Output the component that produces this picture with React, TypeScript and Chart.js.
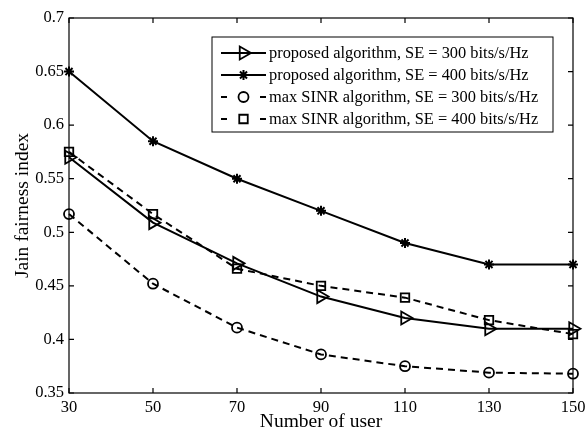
import React, { useEffect, useRef } from "react";
import { Chart, registerables } from "chart.js";
import { drawPoint } from "chart.js/helpers";

Chart.register(...registerables);

const users = [30, 50, 70, 90, 110, 130, 150];
const proposed300 = [0.57, 0.509, 0.471, 0.44, 0.42, 0.41, 0.41];
const proposed400 = [0.65, 0.585, 0.55, 0.52, 0.49, 0.47, 0.47];
const maxSinr300 = [0.517, 0.452, 0.411, 0.386, 0.375, 0.369, 0.368];
const maxSinr400 = [0.575, 0.517, 0.466, 0.45, 0.439, 0.418, 0.405];
const seriesLabels = [
  "proposed algorithm, SE = 300 bits/s/Hz",
  "proposed algorithm, SE = 400 bits/s/Hz",
  "max SINR algorithm, SE = 300 bits/s/Hz",
  "max SINR algorithm, SE = 400 bits/s/Hz",
];
const xTicks = [30, 50, 70, 90, 110, 130, 150];
const yTicks = [0.35, 0.4, 0.45, 0.5, 0.55, 0.6, 0.65, 0.7];

const FONT = "'Liberation Serif', 'Times New Roman', serif";

const boxAndTicks = {
  id: "boxAndTicks",
  afterDatasetsDraw(chart: any) {
    const { ctx, chartArea, scales } = chart;
    const { left, right, top, bottom } = chartArea;
    ctx.save();
    ctx.strokeStyle = "#000";
    ctx.lineWidth = 1.2;
    ctx.strokeRect(left, top, right - left, bottom - top);
    const tl = 5;
    ctx.beginPath();
    xTicks.forEach((v) => {
      const x = scales.x.getPixelForValue(v);
      ctx.moveTo(x, bottom);
      ctx.lineTo(x, bottom - tl);
      ctx.moveTo(x, top);
      ctx.lineTo(x, top + tl);
    });
    yTicks.forEach((v) => {
      const y = scales.y.getPixelForValue(v);
      ctx.moveTo(left, y);
      ctx.lineTo(left + tl, y);
      ctx.moveTo(right, y);
      ctx.lineTo(right - tl, y);
    });
    ctx.stroke();
    ctx.restore();
  },
};

const customLegend = {
  id: "customLegend",
  afterDraw(chart: any) {
    const { ctx, chartArea } = chart;
    const boxRight = chartArea.right - 20;
    const boxLeft = boxRight - 341;
    const boxTop = chartArea.top + 19;
    const rowH = 22;
    const boxH = 95;
    ctx.save();
    ctx.fillStyle = "#fff";
    ctx.fillRect(boxLeft, boxTop, boxRight - boxLeft, boxH);
    ctx.strokeStyle = "#000";
    ctx.lineWidth = 1;
    ctx.strokeRect(boxLeft, boxTop, boxRight - boxLeft, boxH);
    chart.data.datasets.forEach((ds: any, i: number) => {
      const y = boxTop + 16 + i * rowH;
      const x0 = boxLeft + 9;
      const x1 = boxLeft + 54;
      const xm = (x0 + x1) / 2;
      ctx.strokeStyle = "#000";
      ctx.fillStyle = "rgba(0,0,0,0)";
      ctx.lineWidth = ds.borderWidth;
      ctx.setLineDash([]);
      ctx.beginPath();
      if (ds.borderDash && ds.borderDash.length) {
        ctx.moveTo(x0, y);
        ctx.lineTo(x0 + 6, y);
        ctx.moveTo(x1 - 6, y);
        ctx.lineTo(x1, y);
      } else {
        ctx.moveTo(x0, y);
        ctx.lineTo(x1, y);
      }
      ctx.stroke();
      ctx.lineWidth = ds.pointBorderWidth;
      drawPoint(ctx, {
        pointStyle: ds.pointStyle,
        radius: ds.pointRadius,
        rotation: ds.pointRotation || 0,
        borderWidth: ds.pointBorderWidth,
      } as any, xm, y);
      ctx.fillStyle = "#000";
      ctx.font = `16.4px ${FONT}`;
      ctx.textBaseline = "middle";
      ctx.textAlign = "left";
      ctx.fillText(ds.label, x1 + 3, y + 1);
    });
    ctx.restore();
  },
};

function mk(vals: number[]) {
  return users.map((u, i) => ({ x: u, y: vals[i] }));
}

export default function App() {
  const ref = useRef<HTMLCanvasElement | null>(null);
  useEffect(() => {
    if (!ref.current) return;
    const common = {
      borderColor: "#000",
      pointBorderColor: "#000",
      pointBackgroundColor: "rgba(0,0,0,0)",
      borderWidth: 2,
      pointBorderWidth: 1.8,
      tension: 0,
      fill: false,
      clip: false,
    };
    const chart = new Chart(ref.current, {
      type: "line",
      data: {
        datasets: [
          { ...common, label: seriesLabels[0], data: mk(proposed300), pointStyle: "triangle", pointRotation: 90, pointRadius: 7.5 },
          { ...common, label: seriesLabels[1], data: mk(proposed400), pointStyle: "star", pointRadius: 5, pointBorderWidth: 2 },
          { ...common, label: seriesLabels[2], data: mk(maxSinr300), pointStyle: "circle", pointRadius: 5, borderDash: [7, 5] },
          { ...common, label: seriesLabels[3], data: mk(maxSinr400), pointStyle: "rect", pointRadius: 6, borderDash: [7, 5] },
        ] as any,
      },
      options: {
        animation: false,
        responsive: true,
        maintainAspectRatio: false,
        layout: { padding: { top: 18, right: 14, left: 0, bottom: 0 } },
        plugins: { legend: { display: false }, tooltip: { enabled: false } },
        scales: {
          x: {
            type: "linear",
            min: 30,
            max: 150,
            afterBuildTicks: (s: any) => { s.ticks = xTicks.map((v) => ({ value: v })); },
            afterFit: (s: any) => { s.height = 39; s.paddingLeft = 0; s.paddingRight = 0; },
            grid: { display: false, drawTicks: false },
            border: { display: false },
            ticks: { color: "#000", font: { family: FONT, size: 16.5 }, padding: 5, maxRotation: 0, autoSkip: false },
            title: { display: true, text: "Number of user", color: "#000", font: { family: FONT, size: 19.5, lineHeight: 1 }, padding: { top: -2, bottom: 0 } },
          },
          y: {
            type: "linear",
            min: 0.35,
            max: 0.7,
            afterBuildTicks: (s: any) => { s.ticks = yTicks.map((v) => ({ value: v })); },
            afterFit: (s: any) => { s.width = 69; s.paddingTop = 0; s.paddingBottom = 0; },
            grid: { display: false, drawTicks: false },
            border: { display: false },
            ticks: {
              color: "#000",
              font: { family: FONT, size: 16.5 },
              padding: 5,
              autoSkip: false,
              callback: (v: any) => String(Number(Number(v).toFixed(2))),
            },
            title: { display: true, text: "Jain fairness index", color: "#000", font: { family: FONT, size: 19.5, lineHeight: 1 }, padding: { top: 13, bottom: 0 } },
          },
        },
      },
      plugins: [boxAndTicks, customLegend],
    } as any);
    return () => chart.destroy();
  }, []);
  return (
    <div style={{ position: "fixed", left: 0, top: 0, width: 587, height: 432, background: "#fff" }}>
      <canvas ref={ref} />
    </div>
  );
}
